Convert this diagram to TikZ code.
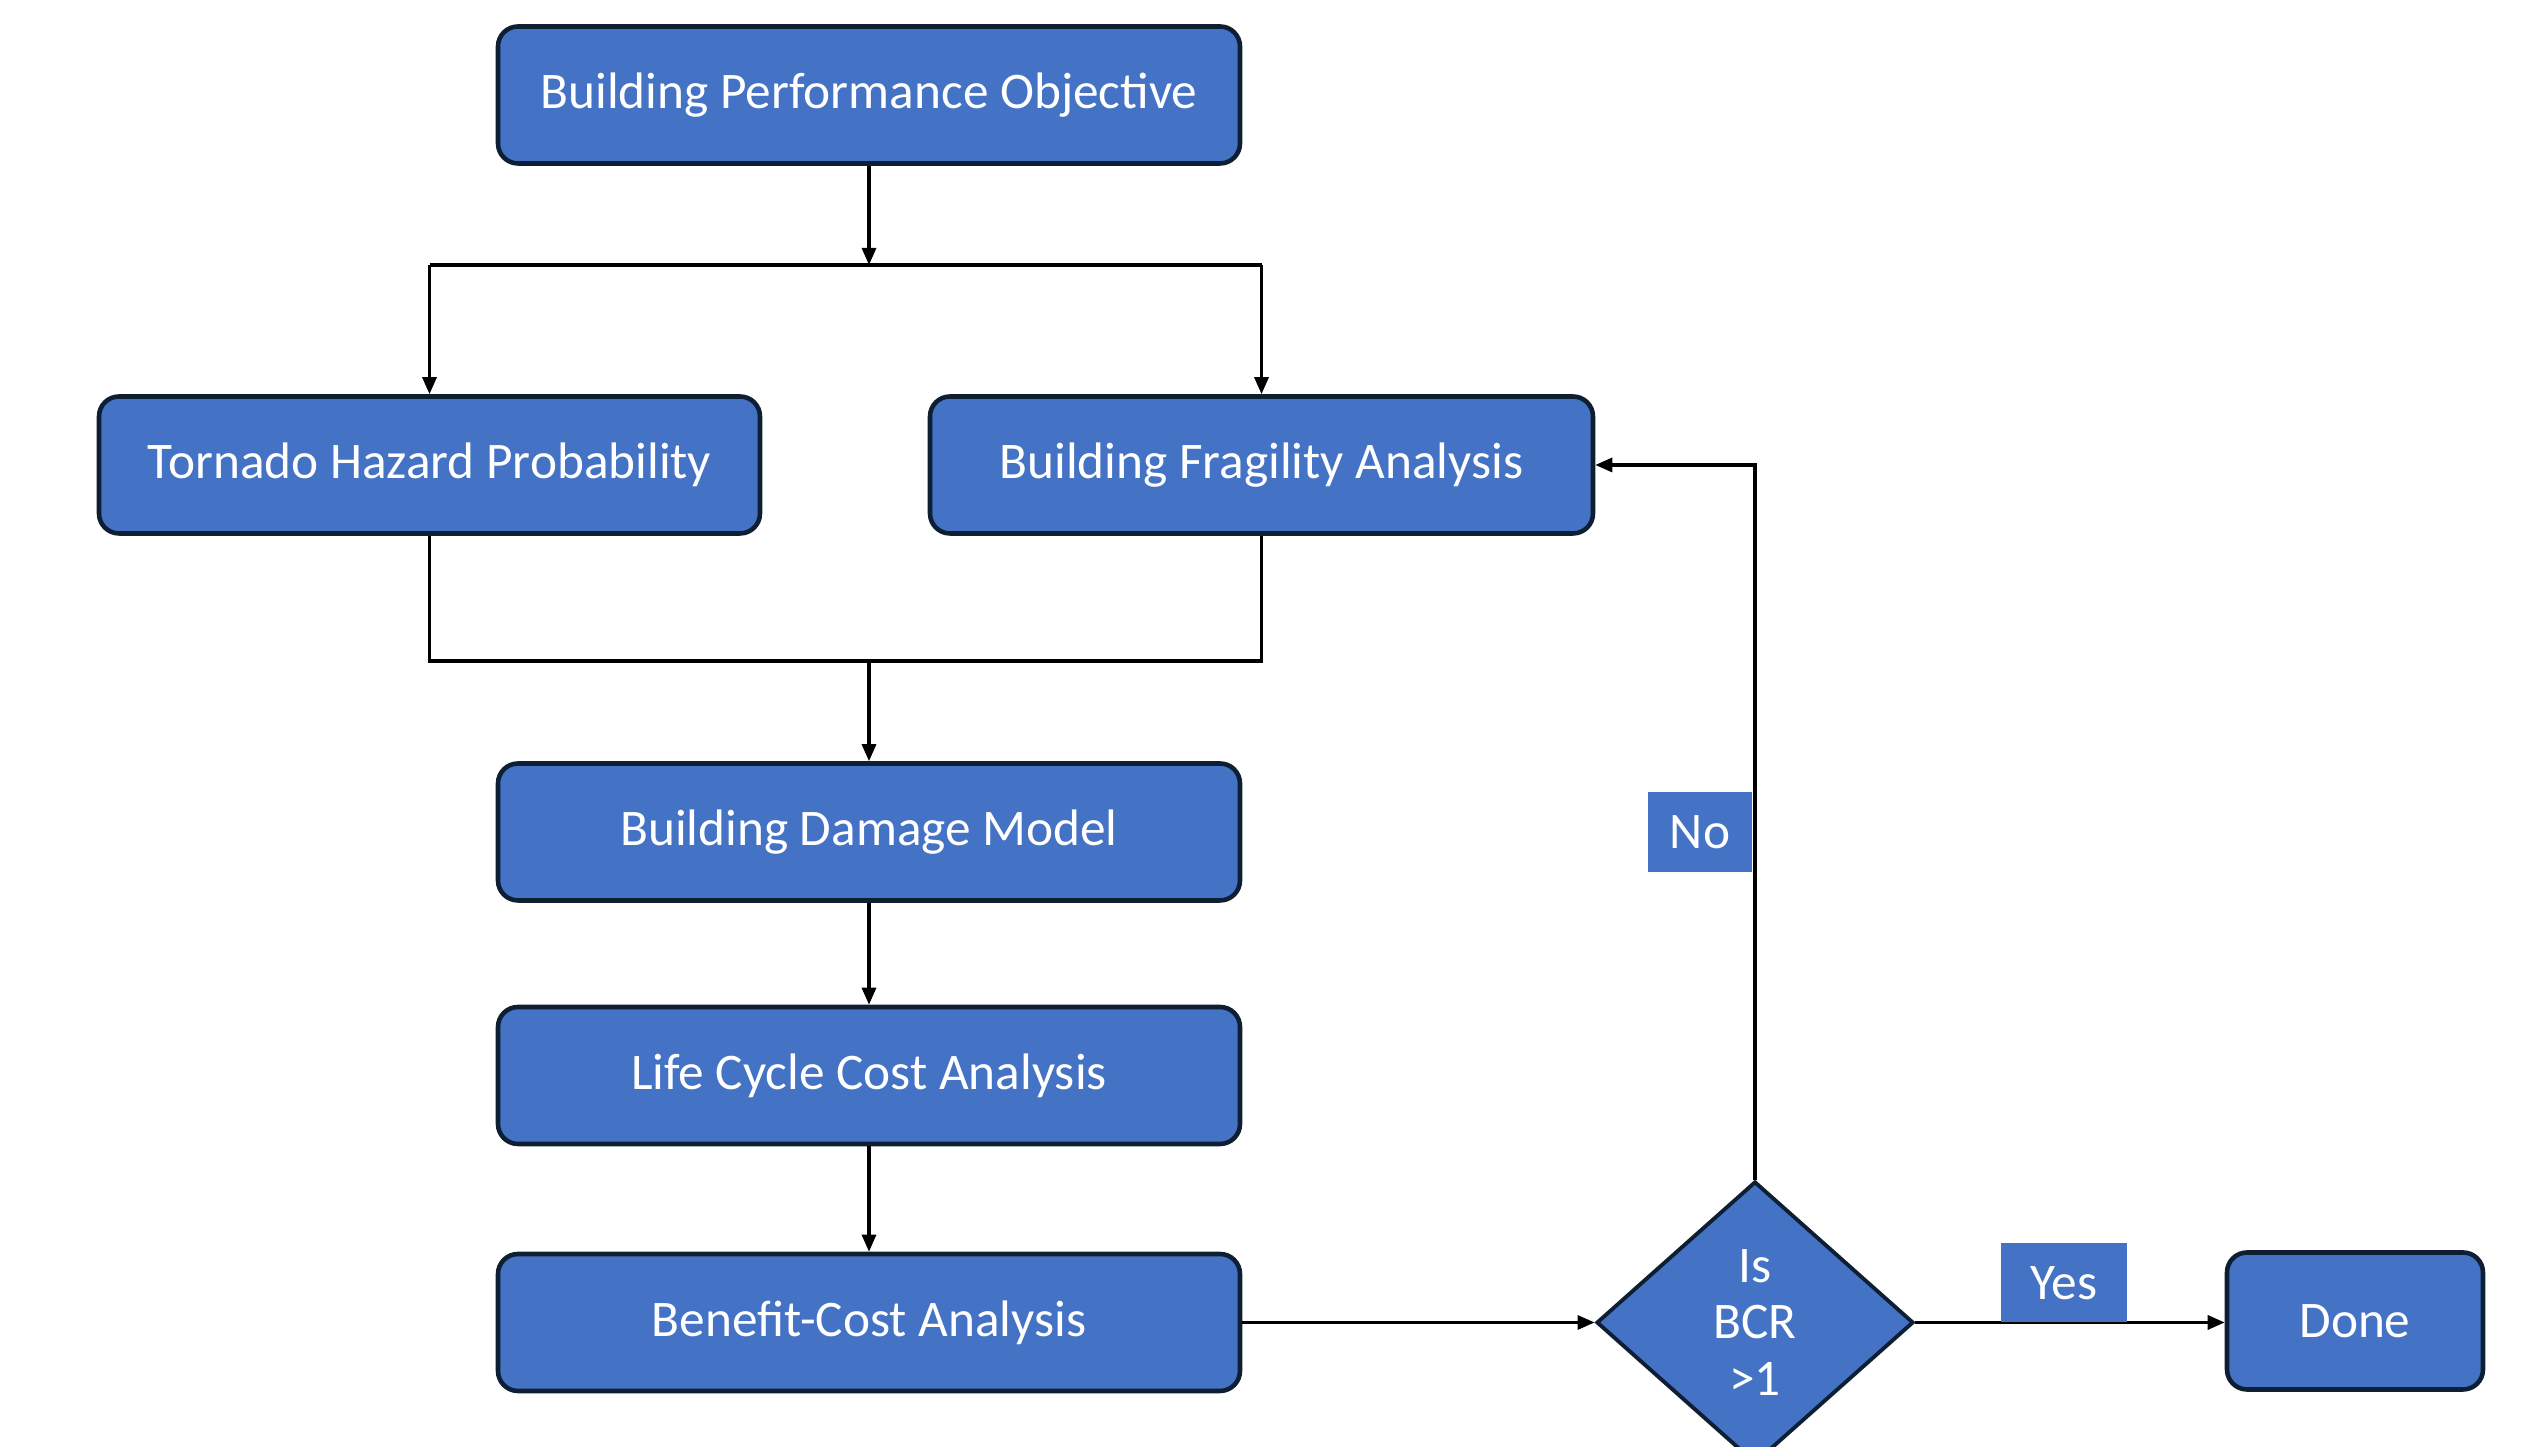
\documentclass[tikz,border=0pt]{standalone}
\usepackage{fontspec}
\setmainfont{Carlito}
\usetikzlibrary{shapes.geometric,arrows.meta}
\definecolor{boxblue}{HTML}{4472C4}
\definecolor{boxedge}{HTML}{0F1F33}
\tikzset{
  stepbox/.style={draw=boxedge, line width=1.3pt, fill=boxblue, rounded corners=0.2cm,
    text=white, font=\fontsize{14.6}{18}\selectfont, inner sep=0pt, minimum height=1.37cm},
  decision/.style={diamond, draw=boxedge, line width=1.1pt, fill=boxblue, text=white,
    font=\fontsize{14.6}{16.2}\selectfont, align=center, inner sep=0pt,
    minimum width=3.17cm, minimum height=2.82cm, aspect=1.12},
  tag/.style={fill=boxblue, text=white, font=\fontsize{14.6}{18}\selectfont, inner sep=0pt},
  flow/.style={line width=0.9pt, -{Triangle[length=0.17cm,width=0.14cm]}},
  wire/.style={line width=0.9pt}
}
\begin{document}
\begin{tikzpicture}
\useasboundingbox (0,0) rectangle (25.36,14.47);
\clip (0,0) rectangle (25.36,14.47);

% process boxes
\node[stepbox, minimum width=7.42cm] (bpo) at (8.69,13.52) {Building Performance Objective};
\node[stepbox, minimum width=6.61cm] (thp) at (4.295,9.82) {Tornado Hazard Probability};
\node[stepbox, minimum width=6.63cm] (bfa) at (12.615,9.82) {Building Fragility Analysis};
\node[stepbox, minimum width=7.42cm] (bdm) at (8.69,6.15) {Building Damage Model};
\node[stepbox, minimum width=7.42cm] (lcc) at (8.69,3.715) {Life Cycle Cost Analysis};
\node[stepbox, minimum width=7.42cm] (bca) at (8.69,1.245) {Benefit-Cost Analysis};
\node[decision] (bcr) at (17.55,1.245) {Is\\BCR\\>1};
\node[stepbox, minimum width=2.56cm] (done) at (23.55,1.26) {Done};

% junction points
\coordinate (split) at (8.69,11.82);
\coordinate (merge) at (8.69,7.86);
\coordinate (loop) at (17.55,9.82);

% fan-out from the objective
\draw[flow] (bpo.south) -- (split);
\draw[wire] (thp.north |- split) -- (bfa.north |- split);
\draw[flow] (thp.north |- split) -- (thp.north);
\draw[flow] (bfa.north |- split) -- (bfa.north);

% merge into the damage model
\draw[wire] (thp.south) -- (thp.south |- merge) -- (bfa.south |- merge) -- (bfa.south);
\draw[flow] (merge) -- (bdm.north);

\draw[flow] (bdm.south) -- (lcc.north);
\draw[flow] (lcc.south) -- (bca.north);
\draw[flow] (bca.east) -- (bcr.west);

% decision outcomes
\draw[flow] (bcr.north) -- (loop) -- (bfa.east);
\draw[flow] (bcr.east) -- (bcr.east -| done.west);

\node[tag, minimum width=1.04cm, minimum height=0.80cm] (no) at (17.00,6.15) {No};
\node[tag, minimum width=1.26cm, minimum height=0.79cm] (yes) at (20.64,1.64) {Yes};
\end{tikzpicture}
\end{document}
